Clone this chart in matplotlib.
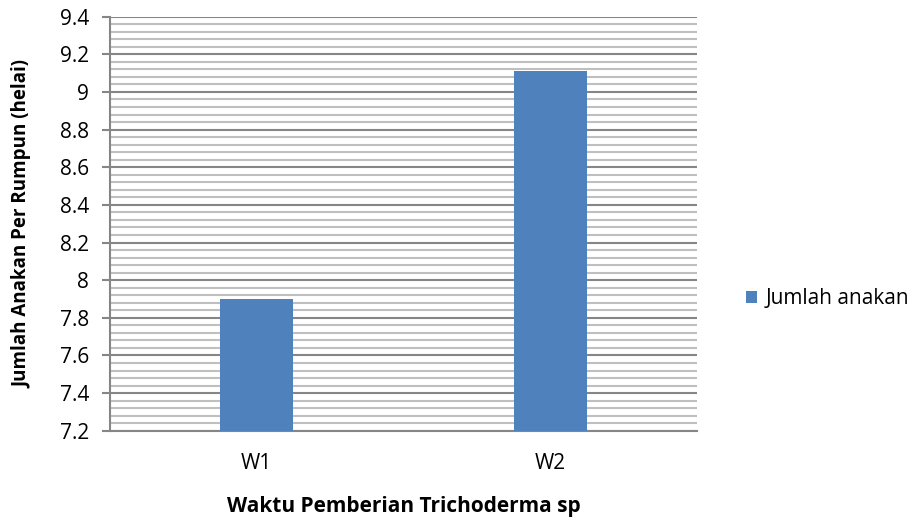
import numpy as np
import matplotlib.pyplot as plt
from matplotlib.ticker import MultipleLocator

plt.rcParams['font.family'] = ['Open Sans', 'DejaVu Sans']

# data
categories = ['W1', 'W2']
jumlah_anakan = [7.9, 9.11]
series_label = 'Jumlah anakan'
y_ticks = [7.2, 7.4, 7.6, 7.8, 8.0, 8.2, 8.4, 8.6, 8.8, 9.0, 9.2, 9.4]

bar_color = '#4F81BD'
major_grid = '#868686'
minor_grid = '#BFBFBF'

fig = plt.figure(figsize=(9.2, 5.19), dpi=100)
ax = fig.add_axes([0.1196, 0.170, 0.638, 0.798])

x = np.arange(len(categories))
ax.bar(x, jumlah_anakan, width=0.25, color=bar_color, label=series_label, zorder=3)

ax.set_ylim(7.2, 9.4)
ax.set_xlim(-0.5, len(categories) - 0.5)
ax.set_yticks(y_ticks)
ax.set_yticklabels([f'{v:g}' for v in y_ticks])
ax.yaxis.set_minor_locator(MultipleLocator(0.04))

ax.grid(which='major', axis='y', color=major_grid, linewidth=1.5, zorder=0)
ax.grid(which='minor', axis='y', color=minor_grid, linewidth=1.5, zorder=0)

ax.set_xticks(x)
ax.set_xticklabels(categories)

for side in ['top', 'right']:
    ax.spines[side].set_visible(False)
for side in ['left', 'bottom']:
    ax.spines[side].set_color(major_grid)
    ax.spines[side].set_linewidth(1.5)

ax.tick_params(axis='y', which='major', length=6, width=1.5, color=major_grid,
               labelsize=15, pad=9)
ax.tick_params(axis='y', which='minor', length=0)
ax.tick_params(axis='x', length=0, labelsize=15, pad=16)

ax.set_ylabel('Jumlah Anakan Per Rumpun (helai)', fontsize=13.5, fontweight='bold', labelpad=20)
ax.set_xlabel('Waktu Pemberian Trichoderma sp', fontsize=15, fontweight='bold', labelpad=16)

fig.legend(loc='center left', bbox_to_anchor=(0.79, 0.424), frameon=False,
           fontsize=15, handlelength=0.55, handleheight=0.55, handletextpad=0.4)

fig.savefig('out.png', dpi=100)
